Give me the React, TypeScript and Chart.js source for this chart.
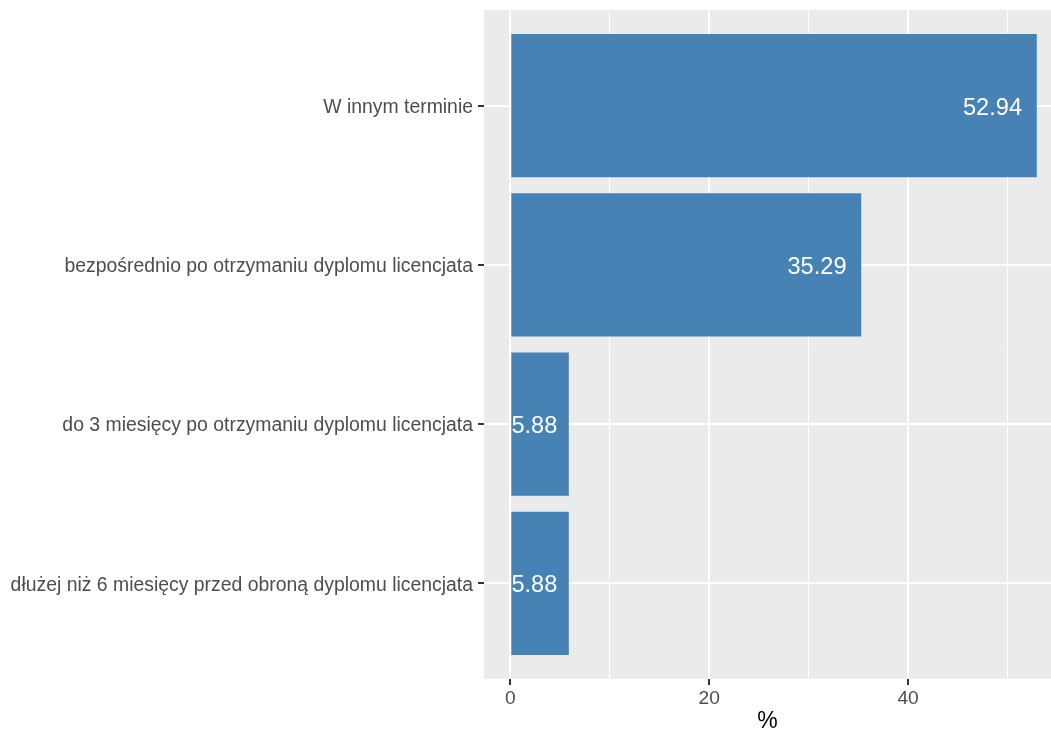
import React, { useEffect, useRef } from "react";
import { Chart, registerables } from "chart.js";

Chart.register(...registerables);

const categories = [
  "W innym terminie",
  "bezpośrednio po otrzymaniu dyplomu licencjata",
  "do 3 miesięcy po otrzymaniu dyplomu licencjata",
  "dłużej niż 6 miesięcy przed obroną dyplomu licencjata",
];
const values = [52.94, 35.29, 5.88, 5.88];
const valueLabels = ["52.94", "35.29", "5.88", "5.88"];
const xMajorTicks = [0, 20, 40];
const xMinorTicks = [10, 30, 50];
const xTitle = "%";

const FONT = "'Liberation Sans', Arial, Helvetica, sans-serif";
const BAR_COLOR = "#4682B4";

const panelPlugin = {
  id: "panelBg",
  beforeDraw(chart: any) {
    const { ctx, chartArea, width, height } = chart;
    ctx.save();
    ctx.fillStyle = "#FFFFFF";
    ctx.fillRect(0, 0, width, height);
    ctx.fillStyle = "#EBEBEB";
    ctx.fillRect(chartArea.left, chartArea.top, chartArea.right - chartArea.left, chartArea.bottom - chartArea.top);
    ctx.restore();
  },
};

const labelPlugin = {
  id: "valueLabels",
  afterDatasetsDraw(chart: any) {
    const { ctx } = chart;
    const meta = chart.getDatasetMeta(0);
    ctx.save();
    ctx.font = `23.6px ${FONT}`;
    ctx.fillStyle = "#FFFFFF";
    ctx.textAlign = "right";
    ctx.textBaseline = "middle";
    meta.data.forEach((el: any, i: number) => {
      const txt = valueLabels[i];
      const w = ctx.measureText(txt).width;
      ctx.fillText(txt, el.x - 0.25 * w, el.y + 2.5);
    });
    ctx.restore();
  },
};

export default function App() {
  const ref = useRef<HTMLCanvasElement | null>(null);

  useEffect(() => {
    document.body.style.margin = "0";
    const canvas = ref.current;
    if (!canvas) return;
    const allXTicks = [...xMajorTicks, ...xMinorTicks].sort((a, b) => a - b);
    const chart = new Chart(canvas, {
      type: "bar",
      data: {
        datasets: [
          {
            data: values.map((v, i) => ({ x: v, y: i + 1 })),
            backgroundColor: BAR_COLOR,
            borderWidth: 0,
            barPercentage: 0.9,
            categoryPercentage: 1.0,
          },
        ],
      },
      options: {
        indexAxis: "y",
        animation: false,
        responsive: false,
        maintainAspectRatio: false,
        layout: { padding: { top: 10, right: 0, left: 0, bottom: 0 } },
        plugins: {
          legend: { display: false },
          tooltip: { enabled: false },
        },
        scales: {
          x: {
            type: "linear",
            min: -2.647,
            max: 54.37,
            offset: false,
            afterBuildTicks: (scale: any) => {
              scale.ticks = allXTicks.map((v) => ({ value: v }));
            },
            afterFit: (scale: any) => {
              scale.height = 56;
              scale.paddingLeft = 0;
              scale.paddingRight = 0;
            },
            ticks: {
              autoSkip: false,
              maxRotation: 0,
              padding: 2,
              color: "#4D4D4D",
              font: { family: FONT, size: 19.2 },
              callback: (v: any) => (xMajorTicks.includes(Number(v)) ? String(v) : ""),
            },
            grid: {
              offset: false,
              color: "#FFFFFF",
              lineWidth: (c: any) => (c.tick && xMajorTicks.includes(c.tick.value) ? 2 : 1),
              tickColor: (c: any) => (c.tick && xMajorTicks.includes(c.tick.value) ? "#333333" : "rgba(0,0,0,0)"),
              tickWidth: 2,
              tickLength: 6,
            },
            border: { display: false },
            title: {
              display: true,
              text: xTitle,
              color: "#000000",
              font: { family: FONT, size: 23 },
              padding: { top: 6, bottom: 0 },
            },
          },
          y: {
            type: "linear",
            reverse: true,
            min: 0.4,
            max: 4.6,
            offset: false,
            afterBuildTicks: (scale: any) => {
              scale.ticks = categories.map((_, i) => ({ value: i + 1 }));
            },
            afterFit: (scale: any) => {
              scale.width = 484;
              scale.paddingTop = 0;
              scale.paddingBottom = 0;
            },
            ticks: {
              autoSkip: false,
              padding: 5,
              labelOffset: 2,
              color: "#4D4D4D",
              font: { family: FONT, size: 19.4 },
              callback: (v: any) => categories[Number(v) - 1] ?? "",
            },
            grid: {
              offset: false,
              color: "#FFFFFF",
              lineWidth: 2,
              tickColor: "#333333",
              tickWidth: 2,
              tickLength: 6,
            },
            border: { display: false },
          },
        },
      },
      plugins: [panelPlugin, labelPlugin],
    } as any);
    return () => chart.destroy();
  }, []);

  return (
    <div style={{ position: "absolute", left: 0, top: 0, width: 1051, height: 735 }}>
      <canvas ref={ref} width={1051} height={735} style={{ width: 1051, height: 735, display: "block" }} />
    </div>
  );
}
